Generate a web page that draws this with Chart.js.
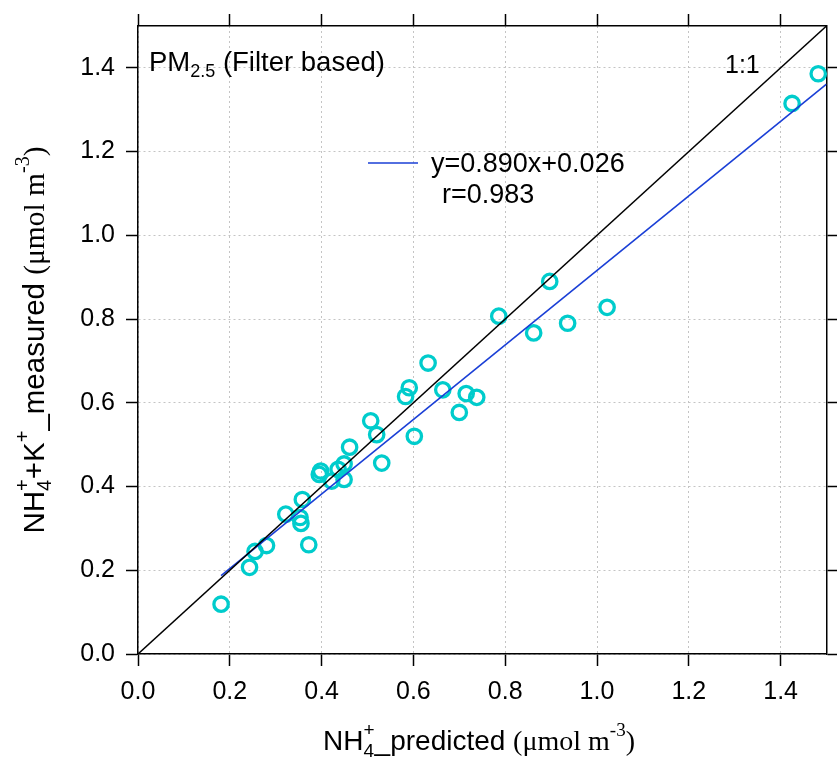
<!DOCTYPE html>
<html><head><meta charset="utf-8">
<script src="https://cdn.jsdelivr.net/npm/chart.js@4.4.1/dist/chart.umd.min.js"></script>
<style>html,body{margin:0;padding:0;background:#fff}#wrap{width:837px;height:763px}</style>
</head><body><div id="wrap"><canvas id="c" width="837" height="763"></canvas></div>
<script>
// ---- data ----
const predicted = [0.181,0.243,0.255,0.280,0.322,0.372,0.353,0.355,0.358,0.395,0.398,0.422,0.436,0.449,0.449,0.461,0.507,0.520,0.531,0.583,0.591,0.602,0.632,0.664,0.700,0.715,0.738,0.786,0.862,0.897,0.936,1.022,1.425,1.482];
const measured  = [0.119,0.207,0.245,0.259,0.334,0.261,0.326,0.312,0.369,0.429,0.437,0.413,0.441,0.417,0.454,0.494,0.557,0.524,0.456,0.615,0.636,0.520,0.695,0.631,0.577,0.622,0.613,0.807,0.767,0.890,0.790,0.828,1.315,1.386];
const xTickValues = [0.0,0.2,0.4,0.6,0.8,1.0,1.2,1.4];
const yTickValues = [0.0,0.2,0.4,0.6,0.8,1.0,1.2,1.4];
const axisRange = [0, 1.5];
const fitSlope = 0.890, fitIntercept = 0.026, fitR = 0.983;
const fitXRange = [0.181, 1.5];
const oneToOneRange = [0, 1.5];

const A = n => `${n}px "Liberation Sans", Arial, sans-serif`;
const T = n => `${n}px "Liberation Serif", "Times New Roman", serif`;

function layoutRich(ctx, segs){
  const items=[]; let x=0;
  for(let i=0;i<segs.length;i++){
    const s=segs[i]; ctx.font=s.f; const w=ctx.measureText(s.t).width;
    if(s.stack){ const n=segs[i+1]; ctx.font=n.f; const w2=ctx.measureText(n.t).width;
      items.push({s,x}); items.push({s:n,x}); x+=Math.max(w,w2); i++; }
    else { items.push({s,x}); x+=w; }
  }
  return {items,width:x};
}
function drawRich(ctx, segs, x, y, align, rot){
  const L=layoutRich(ctx,segs);
  ctx.save(); ctx.translate(x,y); if(rot) ctx.rotate(rot);
  const x0 = align==='center' ? -L.width/2 : 0;
  ctx.textBaseline='alphabetic'; ctx.textAlign='left'; ctx.fillStyle='#000';
  for(const it of L.items){ ctx.font=it.s.f; ctx.fillText(it.s.t, x0+it.x, it.s.dy||0); }
  ctx.restore();
}

const textPlugin = {
  id:'texts',
  afterDatasetsDraw(chart){
    const ctx=chart.ctx;
    drawRich(ctx,[{t:'PM',f:A(27.5)},{t:'2.5',f:A(18),dy:6},{t:' (Filter based)',f:A(27.5)}],149,71,'left');
    drawRich(ctx,[{t:'1:1',f:A(25)}],725,73,'left');
    ctx.save(); ctx.strokeStyle='#1a3fd6'; ctx.lineWidth=1.5; ctx.beginPath(); ctx.moveTo(368,163); ctx.lineTo(418,163); ctx.stroke(); ctx.restore();
    drawRich(ctx,[{t:'y='+fitSlope.toFixed(3)+'x+'+fitIntercept.toFixed(3),f:A(27)}],431,172,'left');
    drawRich(ctx,[{t:'r='+fitR.toFixed(3),f:A(27)}],442,203,'left');
  },
  afterDraw(chart){
    const ctx=chart.ctx;
    drawRich(ctx,[{t:'NH',f:A(28)},{t:'4',f:A(19),dy:7,stack:true},{t:'+',f:A(19),dy:-14},{t:'_predicted ',f:A(28)},{t:'(μmol m',f:T(28)},{t:'-3',f:T(19),dy:-14},{t:')',f:T(28)}],479,750,'center');
    drawRich(ctx,[{t:'NH',f:A(29.5)},{t:'4',f:A(20),dy:7,stack:true},{t:'+',f:A(20),dy:-15},{t:'+K',f:A(29.5)},{t:'+',f:A(20),dy:-15},{t:'_measured ',f:A(29.5)},{t:'(μmol m',f:T(29.5)},{t:'-3',f:T(20),dy:-15},{t:')',f:T(29.5)}],44,340,'center',-Math.PI/2);
  }
};

const gridCommon = {color:'#c4c4c4', lineWidth:1, tickLength:12, tickColor:'#000', tickWidth:1.5, tickBorderDash:[]};
const borderCommon = {color:'#000', width:1.5, dash:[2,3]};
const tickFont = {family:'"Liberation Sans", Arial, sans-serif', size:25};

new Chart(document.getElementById('c'), {
  type:'scatter',
  data:{datasets:[
    {type:'line', data:oneToOneRange.map(v=>({x:v,y:v})), borderColor:'#000', borderWidth:1.5, pointRadius:0, fill:false, order:0},
    {type:'line', data:fitXRange.map(v=>({x:v,y:fitSlope*v+fitIntercept})), borderColor:'#1a3fd6', borderWidth:1.6, pointRadius:0, fill:false, order:1},
    {data:predicted.map((v,i)=>({x:v,y:measured[i]})), pointStyle:'circle', pointRadius:7.2, borderWidth:3.3, borderColor:'#00cccc', backgroundColor:'rgba(0,0,0,0)', showLine:false, clip:false, order:2}
  ]},
  options:{
    responsive:false, animation:false, devicePixelRatio:1,
    layout:{padding:0},
    plugins:{legend:{display:false}, tooltip:{enabled:false}},
    scales:{
      x:{type:'linear', position:'bottom', min:axisRange[0], max:axisRange[1],
        afterBuildTicks:s=>{s.ticks=xTickValues.map(v=>({value:v}));},
        afterFit:s=>{s.height=109;},
        ticks:{font:tickFont, color:'#000', padding:11, maxRotation:0, autoSkip:false, callback:v=>Number(v).toFixed(1)},
        grid:gridCommon, border:borderCommon},
      x2:{type:'linear', position:'top', min:axisRange[0], max:axisRange[1],
        afterBuildTicks:s=>{s.ticks=xTickValues.map(v=>({value:v}));},
        afterFit:s=>{s.height=22;},
        ticks:{display:false},
        grid:{...gridCommon, drawOnChartArea:false}, border:borderCommon},
      y:{type:'linear', position:'left', min:axisRange[0], max:axisRange[1],
        afterBuildTicks:s=>{s.ticks=yTickValues.map(v=>({value:v}));},
        afterFit:s=>{s.width=138;},
        ticks:{font:tickFont, color:'#000', padding:11, autoSkip:false, callback:v=>Number(v).toFixed(1)},
        grid:gridCommon, border:borderCommon},
      y2:{type:'linear', position:'right', min:axisRange[0], max:axisRange[1],
        afterBuildTicks:s=>{s.ticks=yTickValues.map(v=>({value:v}));},
        afterFit:s=>{s.width=8;},
        ticks:{display:false},
        grid:{...gridCommon, drawOnChartArea:false}, border:borderCommon}
    }
  },
  plugins:[textPlugin]
});
</script></body></html>
